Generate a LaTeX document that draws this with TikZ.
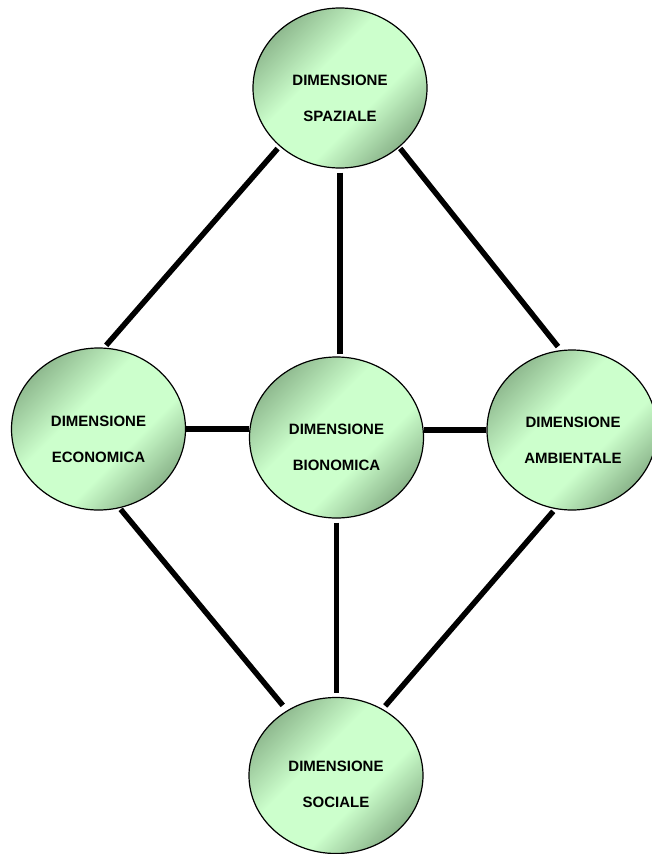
\documentclass[tikz,border=0pt]{standalone}
\usepackage{fontspec}
\setmainfont{Liberation Sans}
\usetikzlibrary{shapes.geometric}

\definecolor{dimdark}{RGB}{126,166,126}
\definecolor{dimlight}{RGB}{204,255,204}

% diagonal band: light in the middle, greener towards two opposite edges
\pgfdeclareverticalshading{dimshade}{100bp}{%
  color(0bp)=(dimdark); color(22bp)=(dimdark);
  color(40bp)=(dimlight); color(58bp)=(dimlight);
  color(80bp)=(dimdark); color(100bp)=(dimdark)}

\tikzset{
  dimnode/.style={ellipse, draw=black, line width=1.2pt, inner sep=0pt,
    minimum width=174pt, minimum height=160pt,
    shading=dimshade, shading angle=45},
  dimtext/.style={align=center, font=\fontsize{15}{36}\selectfont\bfseries},
  link/.style={line width=5.5pt, draw=black}
}

\begin{document}
\begin{tikzpicture}[x=1pt, y=-1pt]
  \useasboundingbox (0,0) rectangle (651,854);

  % the five dimensions
  \node[dimnode] (spaz) at (340,88) {};
  \node[dimnode, minimum height=162pt] (econ) at (98.5,429) {};
  \node[dimnode, minimum height=161pt] (bion) at (336.5,437.5) {};
  \node[dimnode, minimum width=170pt] (amb) at (572,430) {};
  \node[dimnode, minimum height=156pt] (soc) at (336,775.5) {};

  \node[dimtext] (spazT) at ([yshift=-10pt]spaz.center) {DIMENSIONE\\SPAZIALE};
  \node[dimtext] (econT) at ([yshift=-10pt]econ.center) {DIMENSIONE\\ECONOMICA};
  \node[dimtext] (bionT) at ([yshift=-10pt]bion.center) {DIMENSIONE\\BIONOMICA};
  \node[dimtext] (ambT) at ([yshift=-10pt,xshift=1pt]amb.center) {DIMENSIONE\\AMBIENTALE};
  \node[dimtext] (socT) at ([yshift=-9pt]soc.center) {DIMENSIONE\\SOCIALE};

  % connections
  \draw[link, shorten <=3pt, shorten >=3pt] (spaz.224) -- (econ.86);
  \draw[link, shorten <=4pt, shorten >=2pt] (spaz.south) -- (spaz.south |- bion.north);
  \draw[link, shorten <=1.5pt, shorten >=4.5pt] (spaz.315) -- (amb.98);
  \draw[link] (econ.east) -- (econ.east -| bion.west);
  \draw[link] (amb.west) -- (amb.west -| bion.east);
  \draw[link, shorten <=1.5pt, shorten >=6.5pt] (econ.285) -- (soc.127);
  \draw[link, shorten <=4pt, shorten >=4pt] (bion.south) -- (bion.south |- soc.north);
  \draw[link, shorten <=3pt, shorten >=4pt] (amb.258) -- (soc.55);
\end{tikzpicture}
\end{document}
